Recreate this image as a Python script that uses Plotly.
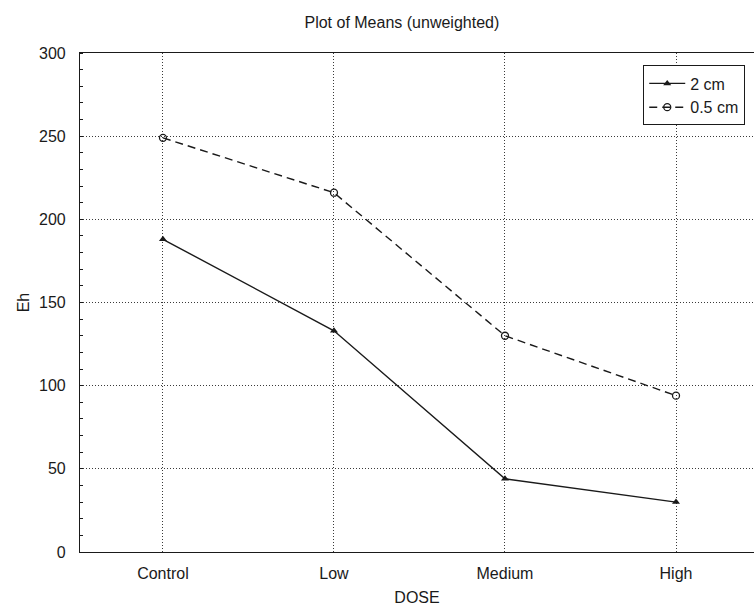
import plotly.graph_objects as go

# Dose levels and mean Eh per depth group
doses = ["Control", "Low", "Medium", "High"]
eh_2cm = [188, 133, 44, 30]
eh_05cm = [249, 216, 130, 94]
y_ticks = [0, 50, 100, 150, 200, 250, 300]

font_family = "Liberation Sans, Arial, sans-serif"
ink = "#1a1a1a"
grid_ink = "#3a3a3a"

fig = go.Figure()
fig.add_trace(go.Scatter(
    x=list(range(len(doses))), y=eh_2cm, name="2 cm",
    mode="lines+markers",
    line=dict(color=ink, width=1.4, dash="solid"),
    marker=dict(symbol="triangle-up", size=7, color=ink),
))
fig.add_trace(go.Scatter(
    x=list(range(len(doses))), y=eh_05cm, name="0.5 cm",
    mode="lines+markers",
    line=dict(color=ink, width=1.4, dash="8px,5px"),
    marker=dict(symbol="circle-open", size=7, color=ink, line=dict(width=1.3)),
))

fig.update_layout(
    width=754, height=607,
    margin=dict(l=80, r=0, t=53, b=55),
    paper_bgcolor="white", plot_bgcolor="white",
    font=dict(family=font_family, size=16, color=ink),
    title=dict(text="Plot of Means (unweighted)", x=0.533, xanchor="center",
               y=1 - 22 / 607, yanchor="middle",
               font=dict(size=16, color=ink)),
    showlegend=True,
    legend=dict(x=0.987, y=0.975, xanchor="right", yanchor="top",
                bgcolor="white", bordercolor=ink, borderwidth=1,
                font=dict(size=16, color=ink),
                itemwidth=36, tracegroupgap=4),
)

fig.update_xaxes(
    range=[-0.485, 3.456],
    tickvals=list(range(len(doses))), ticktext=doses,
    showline=True, linecolor=ink, linewidth=1.2, mirror=True,
    showgrid=True, gridcolor=grid_ink, griddash="1px,2px", gridwidth=1,
    ticks="", ticklabelstandoff=7, zeroline=False,
    tickfont=dict(size=16),
    title=dict(text="DOSE", standoff=10, font=dict(size=16)),
)
fig.update_yaxes(
    range=[0, 300],
    tickvals=y_ticks,
    showline=True, linecolor=ink, linewidth=1.2,
    showgrid=True, gridcolor=grid_ink, griddash="1px,2px", gridwidth=1,
    ticks="", ticklabelstandoff=10, zeroline=False,
    tickfont=dict(size=16),
    minor=dict(dtick=10, ticks="inside", ticklen=3, tickcolor=ink, showgrid=False),
    title=dict(text="Eh", standoff=5, font=dict(size=16)),
)

fig.write_html("out.html")
